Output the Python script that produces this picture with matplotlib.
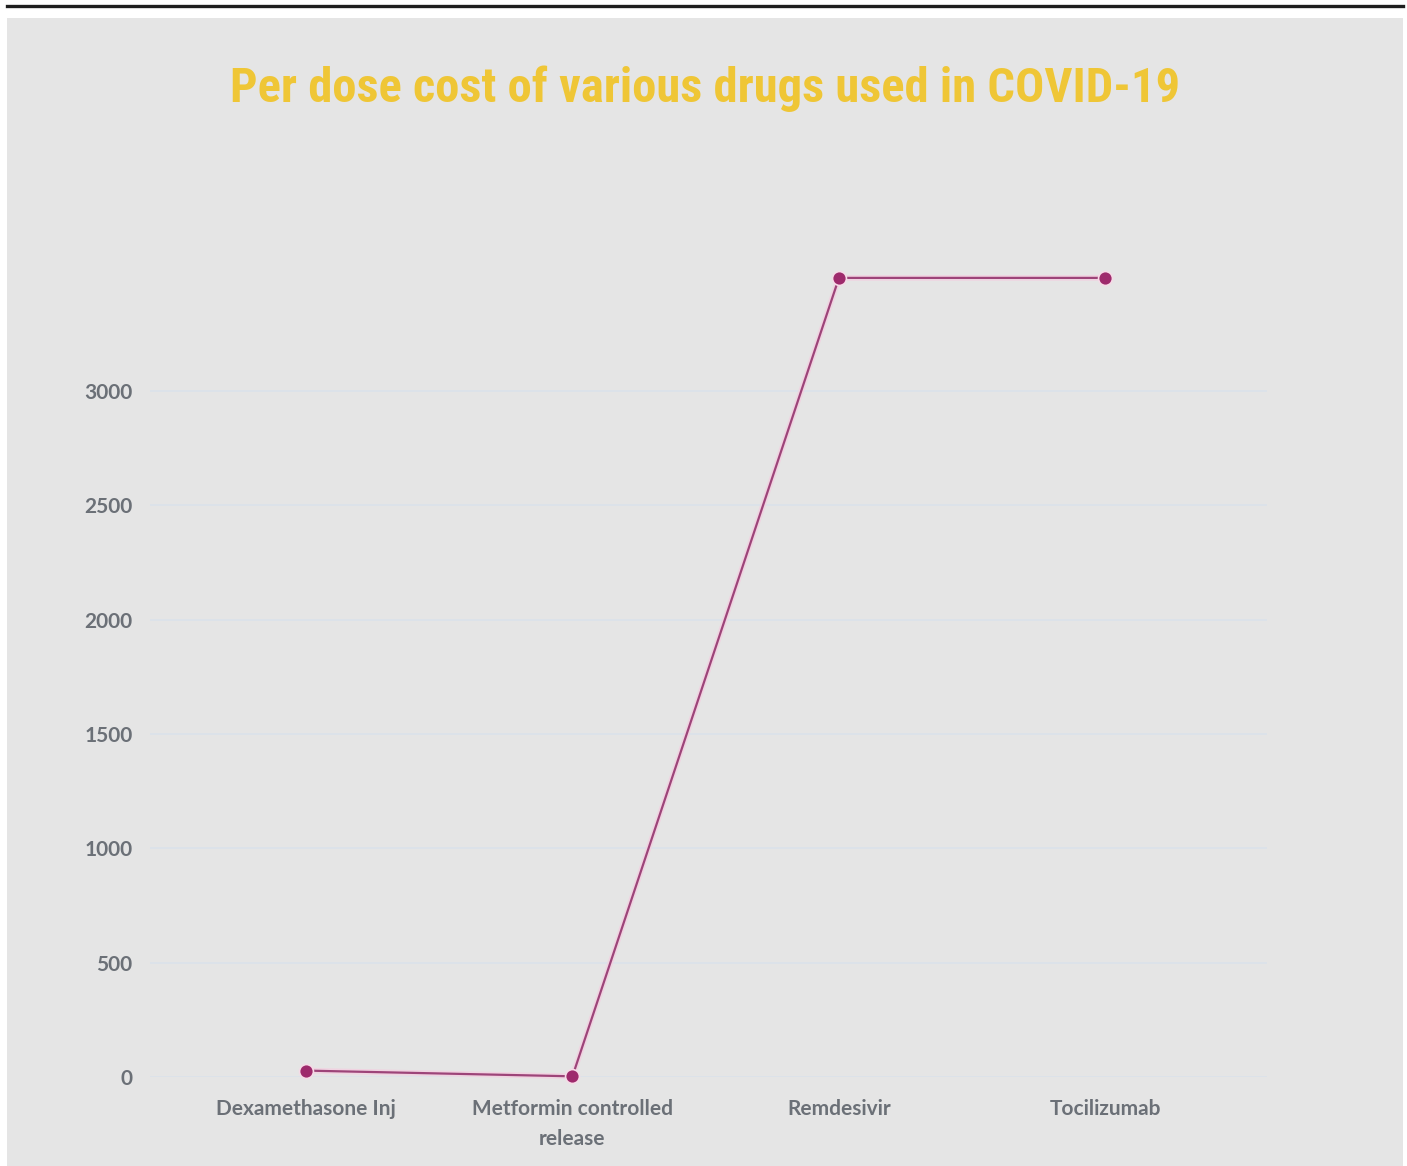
import matplotlib.pyplot as plt
from matplotlib import font_manager
from matplotlib.patches import Rectangle
from matplotlib.lines import Line2D

drugs = ["Dexamethasone Inj", "Metformin controlled\nrelease", "Remdesivir", "Tocilizumab"]
cost = [28, 3, 3495, 3495]
y_ticks = [0, 500, 1000, 1500, 2000, 2500, 3000]

W, H = 1407, 1166
fig = plt.figure(figsize=(W / 100, H / 100), dpi=100)
fig.patch.set_facecolor("white")

# grey card and the black rule above it
fig.patches.append(Rectangle((7 / W, 0), 1396 / W, (H - 18) / H,
                             transform=fig.transFigure, facecolor="#e5e5e5",
                             edgecolor="none", zorder=-10))
fig.lines.append(Line2D([7 / W, 1403 / W], [(H - 5.5) / H, (H - 5.5) / H],
                        transform=fig.transFigure, color="#1e1e1e", lw=2.4, zorder=-10))

ax = fig.add_axes([150 / W, (H - 1077) / H, 1117 / W, (1077 - 250) / H])
ax.set_facecolor("none")
x = list(range(len(drugs)))
ax.set_xlim(-0.585, 3.606)
ax.set_ylim(0, 3617)

for v in y_ticks:
    ax.axhline(v, color="#dbe2ea", lw=1.2, zorder=1)

ax.plot(x, cost, color="#f0d3e1", lw=4, zorder=2, clip_on=False, solid_capstyle="round")
ax.plot(x, cost, color="#9d4479", lw=1.6, zorder=3, clip_on=False)
ax.plot(x, cost, "o", ms=10, color="#9e2a6c", mec="#f6dbe7", mew=1.2,
        zorder=4, clip_on=False)

for s in ax.spines.values():
    s.set_visible(False)
ax.tick_params(length=0)
ax.set_yticks(y_ticks)
ax.set_yticklabels([str(v) for v in y_ticks], fontfamily="Lato", fontweight="bold",
                   fontsize=15, color="#6b7077")
ax.tick_params(axis="y", pad=12.5)
ax.set_xticks(x)
ax.set_xticklabels(drugs, fontfamily="Lato", fontweight="bold", fontsize=15,
                   color="#6b7077", linespacing=1.6)
ax.tick_params(axis="x", pad=16)

# condensed face if there is one, else shrink Roboto to the same width
title_font, title_size = "Roboto", 27
for fam in ["Roboto Condensed", "Liberation Sans Narrow"]:
    try:
        font_manager.findfont(font_manager.FontProperties(family=fam),
                              fallback_to_default=False)
        title_font, title_size = fam, 35
        break
    except ValueError:
        pass

fig.text(705 / W, (H - 89) / H, "Per dose cost of various drugs used in COVID-19",
         ha="center", va="center", fontsize=title_size, fontweight="bold",
         color="#efc636", family=[title_font, "DejaVu Sans"])

fig.savefig("out.png", dpi=100)
